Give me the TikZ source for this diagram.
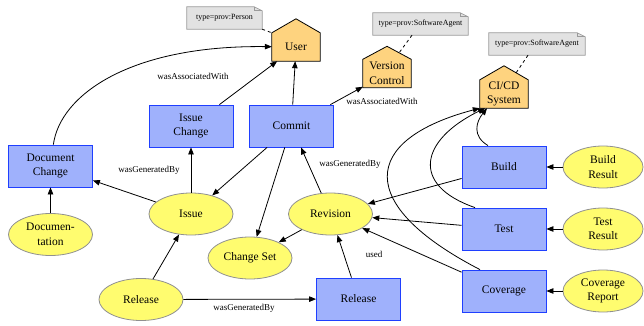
\documentclass[tikz,border=0pt]{standalone}
\usepackage{fontspec}
\setmainfont{Liberation Serif}
\usetikzlibrary{arrows.meta,shapes.geometric,backgrounds,calc}
\definecolor{actfill}{HTML}{9FB1FC}
\definecolor{actdraw}{HTML}{1F3FFF}
\definecolor{entfill}{HTML}{FFFC6F}
\definecolor{entdraw}{HTML}{909090}
\definecolor{agfill}{HTML}{FED37F}
\definecolor{notefill}{HTML}{E2E2E2}
\definecolor{notedraw}{HTML}{9A9A9A}
\newcommand{\housenode}[4]{%
  \node[agentbody] (#1) at #2 {#3};
  \coordinate (#1-peak) at ([yshift=#4]#1.north);
  \begin{scope}[on background layer]
    \filldraw[agentshape] (#1.south west) -- (#1.south east) -- (#1.north east) -- (#1-peak) -- (#1.north west) -- cycle;
  \end{scope}}
\newcommand{\notenode}[4]{%
  \node[notebody, minimum width=#3] (#1) at #2 {#4};
  \begin{scope}[on background layer]
    \filldraw[noteshape] (#1.south west) -- (#1.north west) -- ([xshift=-8pt]#1.north east) -- ([yshift=-4pt]#1.north east) -- (#1.south east) -- cycle;
    \draw[noteshape, fill=none] ([xshift=-8pt]#1.north east) -- ([xshift=-8pt,yshift=-4pt]#1.north east) -- ([yshift=-4pt]#1.north east);
  \end{scope}}
\begin{document}
\begin{tikzpicture}[x=1pt,y=-1pt,
  nodefont/.style={font=\fontsize{11.5}{14.5}\selectfont},
  activity/.style={rectangle, draw=actdraw, fill=actfill, line width=0.8pt, minimum width=84pt, minimum height=42pt, align=center, inner sep=0pt, nodefont},
  entity/.style={ellipse, draw=entdraw, fill=entfill, line width=0.8pt, minimum width=84pt, minimum height=42pt, align=center, inner sep=0pt, nodefont},
  agentbody/.style={rectangle, minimum width=48pt, minimum height=28pt, align=center, inner sep=0pt, nodefont},
  agentshape/.style={fill=agfill, draw=black, line width=0.8pt, line join=miter},
  notebody/.style={rectangle, inner sep=0pt, minimum height=22pt, font=\fontsize{8}{9}\selectfont},
  noteshape/.style={fill=notefill, draw=notedraw, line width=0.7pt},
  edge/.style={-{Triangle[length=7pt,width=5.5pt]}, line width=0.8pt},
  lbl/.style={font=\fontsize{9}{10}\selectfont, inner sep=0pt},
  notelink/.style={dashed, line width=0.8pt}
]
\useasboundingbox (0,0) rectangle (644,326);

% agents
\housenode{user}{(296,47)}{User}{14pt}
\housenode{vc}{(387,73.5)}{Version\\Control}{13pt}
\housenode{cicd}{(504,94)}{CI/CD\\System}{14pt}

% notes
\notenode{note1}{(224.5,18)}{75pt}{type=prov:Person}
\notenode{note2}{(420.5,24)}{95pt}{type=prov:SoftwareAgent}
\notenode{note3}{(537,44)}{96pt}{type=prov:SoftwareAgent}

% activities
\node[activity] (docchange) at (50.5,166) {Document\\Change};
\node[activity] (issuechange) at (191,126) {Issue\\Change};
\node[activity] (commit) at (291.5,126) {Commit};
\node[activity] (releasebox) at (358.5,299) {Release};
\node[activity] (build) at (504,167) {Build};
\node[activity] (test) at (504,229) {Test};
\node[activity] (coverage) at (504,291) {Coverage};

% entities
\node[entity] (documentation) at (50.5,234.5) {Documen-\\tation};
\node[entity] (issue) at (191,214) {Issue};
\node[entity] (changeset) at (250,258) {Change Set};
\node[entity] (release) at (141,299.5) {Release};
\node[entity] (revision) at (330.5,214) {Revision};
\node[entity, minimum width=80pt] (buildres) at (603,167) {Build\\Result};
\node[entity, minimum width=80pt] (testres) at (603,229) {Test\\Result};
\node[entity, minimum width=80pt] (covrep) at (603,291) {Coverage\\Report};

% note links
\draw[notelink] (note1.south east) -- (user.north west);
\draw[notelink] ([xshift=-8.5pt]note2.south) -- ($(vc-peak)!0.5!(vc.north east)$);
\draw[notelink] ([xshift=-9pt]note3.south) -- ($(cicd-peak)!0.5!(cicd.north east)$);

% edges
\draw[edge] (docchange) .. controls (60,95) and (130,45) .. (user);
\draw[edge] (issuechange) -- (user);
\draw[edge] (commit) -- (user);
\draw[edge] (commit) -- (vc);
\draw[edge] (commit) -- (issue);
\draw[edge] (commit) -- (changeset);
\draw[edge] (revision) -- (commit);
\draw[edge] (revision) -- (changeset);
\draw[edge] (issue) -- (issuechange);
\draw[edge] (issue) -- (docchange);
\draw[edge] (documentation) -- (docchange);
\draw[edge] (release) -- (issue);
\draw[edge] (release) -- (releasebox);
\draw[edge] (releasebox) -- (revision);
\draw[edge] (build) -- (revision);
\draw[edge] (test) -- (revision);
\draw[edge] (coverage) -- (revision);
\draw[edge] (buildres) -- (build);
\draw[edge] (testres) -- (test);
\draw[edge] (covrep) -- (coverage);
\draw[edge] ([xshift=-16pt]build.north) .. controls (472,136) and (476,122) .. ([xshift=-17pt]cicd.south);
\draw[edge] ([xshift=-29pt]test.north) .. controls (410,185) and (420,140) .. ([xshift=-19pt]cicd.south);
\draw[edge] ([xshift=-24pt]coverage.north) .. controls (355,205) and (360,140) .. (cicd.south west);

% labels
\node[lbl] (l1) at (193,76) {wasAssociatedWith};
\node[lbl] (l2) at (382,101) {wasAssociatedWith};
\node[lbl] (l3) at (350,164) {wasGeneratedBy};
\node[lbl] (l4) at (149,170) {wasGeneratedBy};
\node[lbl] (l5) at (244,308) {wasGeneratedBy};
\node[lbl] (l6) at (374,254) {used};
\end{tikzpicture}
\end{document}
